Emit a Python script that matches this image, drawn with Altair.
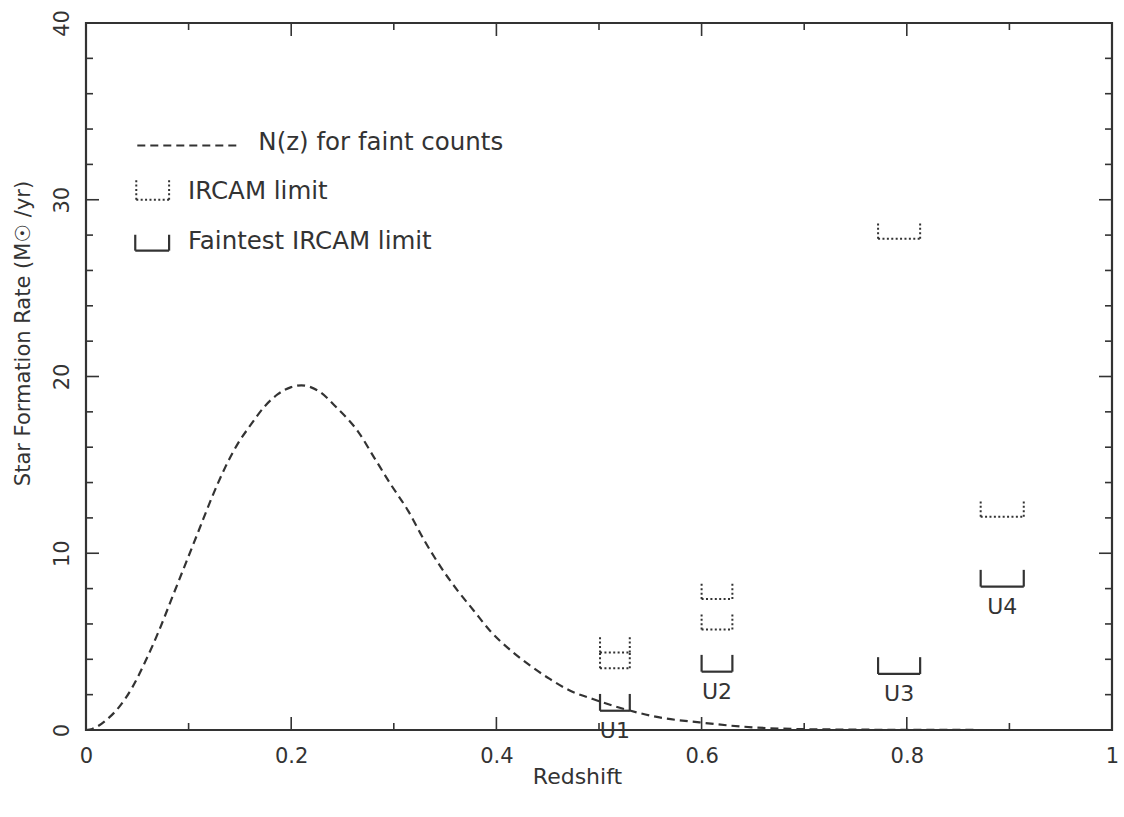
import altair as alt
import pandas as pd

# ---------------- data ----------------
# N(z) for faint counts (dashed curve)
nz_z = [0.0, 0.006, 0.019, 0.032, 0.045, 0.058, 0.071, 0.084, 0.097, 0.110,
        0.123, 0.136, 0.148, 0.161, 0.174, 0.187, 0.200, 0.210, 0.226, 0.245,
        0.265, 0.281, 0.297, 0.314, 0.330, 0.346, 0.362, 0.378, 0.394, 0.414,
        0.433, 0.452, 0.472, 0.494, 0.530, 0.559, 0.598, 0.640, 0.688, 0.750,
        0.800, 0.900, 1.000]
nz_v = [0.0, 0.06, 0.53, 1.28, 2.4, 3.9, 5.6, 7.5, 9.4, 11.3,
        13.2, 14.9, 16.2, 17.3, 18.3, 19.0, 19.4, 19.5, 19.2, 18.2,
        16.9, 15.4, 13.9, 12.4, 10.7, 9.2, 7.9, 6.75, 5.6, 4.5,
        3.64, 2.89, 2.22, 1.75, 1.1, 0.71, 0.43, 0.19, 0.06, 0.02,
        0.01, 0.0, 0.0]

# limits for the four objects
obj_names = ["U1", "U2", "U3", "U4"]
obj_z_lo = [0.501, 0.600, 0.772, 0.872]
obj_z_hi = [0.530, 0.630, 0.813, 0.914]
faintest_limit = [1.09, 3.30, 3.17, 8.11]
ircam_limit = [[3.50, 4.39], [5.68, 7.41], [27.80], [12.07]]

legend_labels = ["N(z) for faint counts", "IRCAM limit", "Faintest IRCAM limit"]

x_major = [0.0, 0.2, 0.4, 0.6, 0.8, 1.0]
x_minor = [0.1, 0.3, 0.5, 0.7, 0.9]
y_major = [0, 10, 20, 30, 40]
y_minor = [2, 4, 6, 8, 12, 14, 16, 18, 22, 24, 26, 28, 32, 34, 36, 38]

# ---------------- layout / style ----------------
W, H = 1026, 707
PAD = {"left": 86, "top": 23, "right": 12, "bottom": 87}
INK = "#333333"
FONT = "DejaVu Sans"
BRACKET_H = 0.95
MAJ, MIN = 13, 7
DOTS = [2, 2.4]

xs = alt.Scale(domain=[0, 1], nice=False, zero=False)
ys = alt.Scale(domain=[0, 40], nice=False, zero=False)

x_axis = alt.Axis(values=x_major, format="~g", ticks=False, domain=False, grid=False,
                  labelFlush=False, labelFontSize=21, labelPadding=15,
                  titleFontSize=22, titleFontWeight="normal",
                  titleX=491, titleY=46, titleAlign="center", titleBaseline="middle")
y_axis = alt.Axis(values=y_major, ticks=False, domain=False, grid=False,
                  labelFlush=False, labelAngle=-90, labelFontSize=21, labelPadding=14,
                  titleFontSize=21, titleFontWeight="normal",
                  titleX=-63, titleY=310, titleAngle=270,
                  titleAlign="center", titleBaseline="middle")
X_TITLE = "Redshift"
Y_TITLE = "Star Formation Rate (M\u2609 /yr)"


def X(field):
    return alt.X(field, scale=xs, axis=x_axis, title=X_TITLE)


def Y(field):
    return alt.Y(field, scale=ys, axis=y_axis, title=Y_TITLE)


def segs(lo, hi, bottom, h):
    return [
        dict(x=lo, x2=lo, y=bottom, y2=bottom + h),
        dict(x=hi, x2=hi, y=bottom, y2=bottom + h),
        dict(x=lo, x2=hi, y=bottom, y2=bottom),
    ]


solid_rows, dotted_rows = [], []
for lo, hi, f, ir in zip(obj_z_lo, obj_z_hi, faintest_limit, ircam_limit):
    solid_rows += segs(lo, hi, f, BRACKET_H)
    for v in ir:
        dotted_rows += segs(lo, hi, v, BRACKET_H)

# legend (placed in the upper-left of the panel)
leg_line = pd.DataFrame([dict(x=0.050, x2=0.148, y=33.07)])
leg_dotted = pd.DataFrame(segs(0.049, 0.081, 30.0, 1.1))
leg_solid = pd.DataFrame(segs(0.048, 0.081, 27.12, 0.9))
leg_text = pd.DataFrame({
    "x": [0.168, 0.0994, 0.0994],
    "y": [33.2, 30.42, 27.6],
    "label": legend_labels,
})

solid_df = pd.DataFrame(solid_rows)
dotted_df = pd.DataFrame(dotted_rows)
labels_df = pd.DataFrame({
    "x": [(a + b) / 2 for a, b in zip(obj_z_lo, obj_z_hi)],
    "y": faintest_limit,
    "name": obj_names,
})
curve_df = pd.DataFrame({"z": nz_z, "v": nz_v})

curve = alt.Chart(curve_df).mark_line(
    color=INK, strokeWidth=2.2, strokeDash=[8, 5], interpolate="monotone"
).encode(x=X("z:Q"), y=Y("v:Q"))


def rules(df, dash=None, width=2):
    kw = dict(color=INK, strokeWidth=width)
    if dash:
        kw["strokeDash"] = dash
    return alt.Chart(df).mark_rule(**kw).encode(
        x=X("x:Q"), x2="x2:Q", y=Y("y:Q"), y2="y2:Q")


solid = rules(solid_df, width=2.2)
dotted = rules(dotted_df, dash=DOTS, width=2)
leg_dot = rules(leg_dotted, dash=DOTS, width=2)
leg_sol = rules(leg_solid, width=2.2)
leg_dash = alt.Chart(leg_line).mark_rule(color=INK, strokeWidth=2.2, strokeDash=[8, 5]).encode(
    x=X("x:Q"), x2="x2:Q", y=Y("y:Q"))
leg_txt = alt.Chart(leg_text).mark_text(
    align="left", baseline="middle", fontSize=24.5, font=FONT, color=INK
).encode(x=X("x:Q"), y=Y("y:Q"), text="label:N")
obj_txt = alt.Chart(labels_df).mark_text(
    align="center", baseline="middle", fontSize=22, font=FONT, color=INK, dy=20
).encode(x=X("x:Q"), y=Y("y:Q"), text="name:N")


def xticks(vals, length):
    df = pd.DataFrame({"t": vals})
    b = alt.Chart(df).mark_rule(color=INK, strokeWidth=1.6).encode(
        x=X("t:Q"), y=alt.value(H), y2=alt.value(H - length))
    t = alt.Chart(df).mark_rule(color=INK, strokeWidth=1.6).encode(
        x=X("t:Q"), y=alt.value(0), y2=alt.value(length))
    return [b, t]


def yticks(vals, length):
    df = pd.DataFrame({"t": vals})
    l = alt.Chart(df).mark_rule(color=INK, strokeWidth=1.6).encode(
        y=Y("t:Q"), x=alt.value(0), x2=alt.value(length))
    r = alt.Chart(df).mark_rule(color=INK, strokeWidth=1.6).encode(
        y=Y("t:Q"), x=alt.value(W), x2=alt.value(W - length))
    return [l, r]


tick_layers = (xticks(x_major, MAJ) + xticks(x_minor, MIN)
               + yticks(y_major, MAJ) + yticks(y_minor, MIN))

chart = alt.layer(
    curve, *tick_layers, solid, dotted, obj_txt, leg_dash, leg_dot, leg_sol, leg_txt
).properties(
    width=W, height=H,
    autosize=alt.AutoSizeParams(type="none"),
    padding=PAD,
    background="white",
).configure_view(
    stroke=INK, strokeWidth=2.2
).configure_axis(
    labelFont=FONT, titleFont=FONT, labelColor=INK, titleColor=INK
)

chart.save("out.html", embed_options={"renderer": "svg", "actions": False})
